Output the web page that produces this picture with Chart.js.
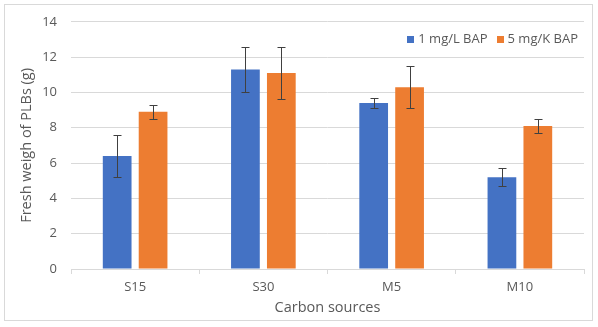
<!DOCTYPE html>
<html>
<head>
<meta charset="utf-8">
<script src="https://cdn.jsdelivr.net/npm/chart.js@4"></script>
<style>
  html, body { margin: 0; padding: 0; background: #fff; }
  #wrap { width: 598px; height: 327px; position: relative; }
</style>
</head>
<body>
<div id="wrap"><canvas id="c" width="598" height="327"></canvas></div>
<script>
// Fresh weight of PLBs by carbon source, two BAP levels, with error bars
const categories = ['S15', 'S30', 'M5', 'M10'];
const seriesNames = ['1 mg/L BAP', '5 mg/K BAP'];
const bap1Values = [6.4, 11.3, 9.4, 5.2];
const bap1Errors = [1.2, 1.3, 0.3, 0.5];
const bap5Values = [8.9, 11.1, 10.3, 8.1];
const bap5Errors = [0.4, 1.5, 1.2, 0.4];
const yTicks = [0, 2, 4, 6, 8, 10, 12, 14];

const FONT = "'Open Sans', 'Liberation Sans', sans-serif";
const TEXT = '#595959';
const GRID = '#d9d9d9';

// Outer frame and white background
const framePlugin = {
  id: 'frame',
  beforeDraw(chart) {
    const ctx = chart.ctx;
    ctx.save();
    ctx.fillStyle = '#ffffff';
    ctx.fillRect(0, 0, chart.width, chart.height);
    ctx.strokeStyle = GRID;
    ctx.lineWidth = 1;
    ctx.strokeRect(4.5, 4.5, 588, 316);
    ctx.restore();
  }
};

// Error bars drawn from each bar's value +/- its error through the y scale
const errorBarPlugin = {
  id: 'errorBars',
  afterDatasetsDraw(chart) {
    const ctx = chart.ctx;
    const yScale = chart.scales.y;
    ctx.save();
    ctx.strokeStyle = '#404040';
    ctx.lineWidth = 1;
    chart.data.datasets.forEach((ds, di) => {
      const meta = chart.getDatasetMeta(di);
      meta.data.forEach((bar, i) => {
        const v = ds.data[i];
        const e = ds.errors[i];
        const x = Math.round(bar.x) + 0.5;
        const yTop = Math.round(yScale.getPixelForValue(v + e)) + 0.5;
        const yBot = Math.round(yScale.getPixelForValue(v - e)) + 0.5;
        ctx.beginPath();
        ctx.moveTo(x, yTop); ctx.lineTo(x, yBot);
        ctx.moveTo(x - 4, yTop); ctx.lineTo(x + 4, yTop);
        ctx.moveTo(x - 4, yBot); ctx.lineTo(x + 4, yBot);
        ctx.stroke();
      });
    });
    ctx.restore();
  }
};

// Legend inside the plot, top right
const legendPlugin = {
  id: 'innerLegend',
  afterDraw(chart) {
    const ctx = chart.ctx;
    ctx.save();
    ctx.font = '13px ' + FONT;
    ctx.textBaseline = 'middle';
    const yc = 39;
    const box = 7;
    let right = 578;
    const items = chart.data.datasets.map(d => ({ label: d.label, color: d.backgroundColor }));
    for (let i = items.length - 1; i >= 0; i--) {
      const w = ctx.measureText(items[i].label).width;
      const tx = right - w;
      ctx.fillStyle = TEXT;
      ctx.fillText(items[i].label, tx, yc);
      ctx.fillStyle = items[i].color;
      ctx.fillRect(Math.round(tx - 4 - box), Math.round(yc - box / 2), box, box);
      right = tx - 4 - box - 9;
    }
    ctx.restore();
  }
};

new Chart(document.getElementById('c'), {
  type: 'bar',
  data: {
    labels: categories,
    datasets: [
      { label: seriesNames[0], data: bap1Values, errors: bap1Errors, backgroundColor: '#4472C4',
        categoryPercentage: 0.56, barPercentage: 0.8 },
      { label: seriesNames[1], data: bap5Values, errors: bap5Errors, backgroundColor: '#ED7D31',
        categoryPercentage: 0.56, barPercentage: 0.8 }
    ]
  },
  options: {
    responsive: false,
    animation: false,
    devicePixelRatio: 1,
    layout: { padding: { left: 0, top: 21, right: 14, bottom: 5 } },
    plugins: { legend: { display: false }, tooltip: { enabled: false } },
    scales: {
      x: {
        grid: { display: true, drawOnChartArea: false, drawTicks: true, tickLength: 5, color: GRID, offset: true },
        border: { display: true, color: GRID },
        ticks: { color: TEXT, font: { family: FONT, size: 13 }, padding: 5 },
        title: { display: true, text: 'Carbon sources', color: TEXT, font: { family: FONT, size: 14.5 },
                 padding: { top: 0, bottom: 5 } },
        afterFit(scale) { scale.height = 53; }
      },
      y: {
        min: 0, max: 14,
        afterBuildTicks(scale) { scale.ticks = yTicks.map(v => ({ value: v })); },
        grid: { color: GRID, drawTicks: false },
        border: { display: false },
        ticks: { color: TEXT, font: { family: FONT, size: 13 }, padding: 14 },
        title: { display: true, text: 'Fresh weigh of PLBs (g)', color: TEXT, font: { family: FONT, size: 14.5 },
                 padding: { top: 18, bottom: 0 } },
        afterFit(scale) { scale.width = 71; }
      }
    }
  },
  plugins: [framePlugin, errorBarPlugin, legendPlugin]
});
</script>
</body>
</html>
